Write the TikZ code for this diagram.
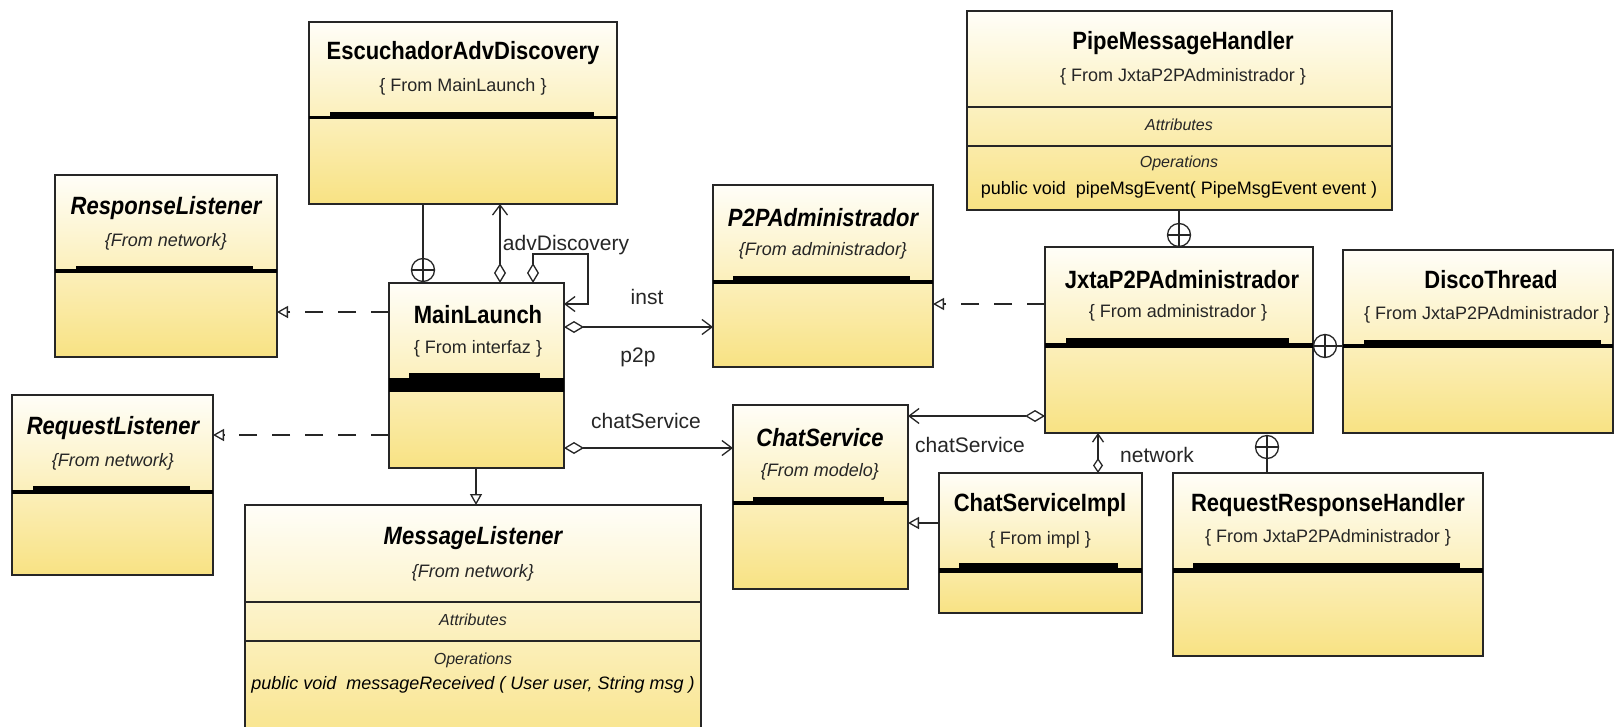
\documentclass[tikz,border=0pt]{standalone}
\usepackage{fontspec}
\setmainfont{Liberation Sans}
\newfontfamily\condfont[FakeStretch=0.88]{Liberation Sans}
\usetikzlibrary{arrows.meta}

\definecolor{boxtop}{HTML}{FFFEF8}
\definecolor{boxbot}{HTML}{F8E283}
\definecolor{edge}{HTML}{262626}

\tikzset{
  cls/.style={draw=edge, line width=1.4pt, top color=boxtop, bottom color=boxbot,
    rectangle, inner sep=0pt, outer sep=0pt, anchor=north west},
  ttl/.style={font=\condfont\bfseries\fontsize{25}{30}\selectfont, inner sep=0pt, text=black},
  ttli/.style={font=\condfont\bfseries\itshape\fontsize{25}{30}\selectfont, inner sep=0pt, text=black},
  frm/.style={font=\fontsize{18}{22}\selectfont, inner sep=0pt, text=black!85},
  frmi/.style={font=\itshape\fontsize{18}{22}\selectfont, inner sep=0pt, text=black!85},
  cmp/.style={font=\itshape\fontsize{16}{20}\selectfont, inner sep=0pt, text=black!85},
  meth/.style={font=\fontsize{18}{22}\selectfont, inner sep=0pt, text=black},
  methi/.style={font=\itshape\fontsize{18}{22}\selectfont, inner sep=0pt, text=black},
  lbl/.style={font=\fontsize{21}{25}\selectfont, inner sep=0pt, text=black!85},
  link/.style={draw=edge, line width=1.3pt},
  assoc/.style={link, arrows={Diamond[open,length=20pt,width=12pt]-Straight Barb[length=10pt,width=15pt]}},
  assocs/.style={link, arrows={Diamond[open,length=15pt,width=10pt]-Straight Barb[length=8pt,width=11pt]}},
  gen/.style={link, arrows={-Triangle[open,length=11pt,width=12pt]}},
  real/.style={link, dash pattern=on 18pt off 15pt, arrows={-Triangle[open,length=11pt,width=12pt]}},
  nest/.style={circle, draw=edge, line width=1.3pt, fill=white, minimum size=23pt, inner sep=0pt,
    path picture={\draw[edge, line width=1.1pt]
      (path picture bounding box.north) -- (path picture bounding box.south)
      (path picture bounding box.west) -- (path picture bounding box.east);}},
}

% class rectangle from its top-left and bottom-right corners
\newcommand\umlclass[5]{%
  \node[cls, minimum width={(#4-#2)*1pt}, minimum height={(#5-#3)*1pt}] (#1) at (#2,#3) {};}
% collapsed compartment bar: x1, x2, inset left, inset right, raised top, line top, line bottom
\newcommand\collbar[7]{%
  \fill[black] (#1,#6) rectangle (#2,#7);
  \fill[black] (#3,#5) rectangle (#4,#7);}

\begin{document}
\begin{tikzpicture}[x=1pt, y=-1pt]
\useasboundingbox (0,0) rectangle (1614,726);
\fill[white] (0,0) rectangle (1614,726);
\clip (0,0) rectangle (1614,726);

% ---------- classes ----------
\umlclass{esc}{309}{22}{617}{204}
\collbar{309}{617}{330}{594}{112}{116}{119}
\node[ttl] (esc-t) at (463,53) {EscuchadorAdvDiscovery};
\node[frm] (esc-f) at (463,87) {\{ From MainLaunch \}};

\umlclass{respL}{55}{175}{277}{357}
\collbar{55}{277}{76}{253}{266}{269}{273}
\node[ttli] (respL-t) at (166,208) {ResponseListener};
\node[frmi] (respL-f) at (166,242) {\{From network\}};

\umlclass{reqL}{12}{395}{213}{575}
\collbar{12}{213}{33}{190}{486}{490}{494}
\node[ttli] (reqL-t) at (113,428) {RequestListener};
\node[frmi] (reqL-f) at (113,462) {\{From network\}};

\umlclass{main}{389}{283}{564}{468}
\collbar{389}{564}{409}{540}{373}{378}{392}
\node[ttl] (main-t) at (478,315) {MainLaunch};
\node[frm] (main-f) at (478,349) {\{ From interfaz \}};

\umlclass{msgL}{245}{505}{701}{760}
\draw[link, line width=1.4pt] (245,602) -- (701,602);
\draw[link, line width=1.4pt] (245,641) -- (701,641);
\node[ttli] (msgL-t) at (473,538) {MessageListener};
\node[frmi] (msgL-f) at (473,573) {\{From network\}};
\node[cmp] (msgL-a) at (473,620) {Attributes};
\node[cmp] (msgL-o) at (473,660) {Operations};
\node[methi] (msgL-m) at (473,685) {public void\ \ messageReceived ( User user, String msg )};

\umlclass{p2p}{713}{185}{933}{367}
\collbar{713}{933}{733}{910}{276}{280}{284}
\node[ttli] (p2p-t) at (823,218) {P2PAdministrador};
\node[frmi] (p2p-f) at (823,251) {\{From administrador\}};

\umlclass{chatS}{733}{405}{908}{589}
\collbar{733}{908}{753}{884}{497}{501}{505}
\node[ttli] (chatS-t) at (820,438) {ChatService};
\node[frmi] (chatS-f) at (820,472) {\{From modelo\}};

\umlclass{pipe}{967}{11}{1392}{210}
\draw[link, line width=1.4pt] (967,107) -- (1392,107);
\draw[link, line width=1.4pt] (967,146) -- (1392,146);
\node[ttl] (pipe-t) at (1183,43) {PipeMessageHandler};
\node[frm] (pipe-f) at (1183,77) {\{ From JxtaP2PAdministrador \}};
\node[cmp] (pipe-a) at (1179,125) {Attributes};
\node[cmp] (pipe-o) at (1179,163) {Operations};
\node[meth] (pipe-m) at (1179,190) {public void\ \ pipeMsgEvent( PipeMsgEvent event )};

\umlclass{jxta}{1045}{247}{1313}{433}
\collbar{1045}{1313}{1066}{1289}{338}{343}{348}
\node[ttl] (jxta-t) at (1182,280) {JxtaP2PAdministrador};
\node[frm] (jxta-f) at (1178,313) {\{ From administrador \}};

\umlclass{disco}{1343}{250}{1613}{433}
\collbar{1343}{1613}{1364}{1601}{340}{344}{348}
\node[ttl] (disco-t) at (1491,280) {DiscoThread};
\node[frm] (disco-f) at (1487,315) {\{ From JxtaP2PAdministrador \}};

\umlclass{csImpl}{939}{473}{1142}{613}
\collbar{939}{1142}{959}{1118}{563}{568}{573}
\node[ttl] (csImpl-t) at (1040,505) {ChatServiceImpl};
\node[frm] (csImpl-f) at (1040,540) {\{ From impl \}};

\umlclass{rrh}{1173}{473}{1483}{656}
\collbar{1173}{1483}{1193}{1460}{563}{568}{573}
\node[ttl] (rrh-t) at (1328,505) {RequestResponseHandler};
\node[frm] (rrh-f) at (1328,538) {\{ From JxtaP2PAdministrador \}};

% ---------- nesting ----------
\node[nest] (nst1) at (423,270) {};
\draw[link] (nst1 |- esc.south) -- (nst1.north);
\node[nest] (nst2) at (1179,235) {};
\draw[link] (nst2 |- pipe.south) -- (nst2.north);
\node[nest] (nst3) at (1325,346) {};
\draw[link] (nst3.east) -- (nst3 -| disco.west);
\node[nest] (nst4) at (1267,447) {};
\draw[link] (nst4.south) -- (nst4 |- rrh.north);

% ---------- associations ----------
\draw[assoc] (main.north -| 500,0) -- (esc.south -| 500,0);
\draw[assoc] (main.north -| 533,0) -- (533,254) -- (588,254) -- (588,304) -- (main.east |- 0,304);
\node[lbl] (l-adv) at (566,245) {advDiscovery};

\draw[assoc] (main.east |- 0,327) -- (p2p.west |- 0,327);
\node[lbl] (l-inst) at (647,297) {inst};
\node[lbl] (l-p2p) at (638,357) {p2p};

\draw[assoc] (main.east |- 0,448) -- (chatS.west |- 0,448);
\node[lbl] (l-cs1) at (646,421) {chatService};

\draw[assoc] (jxta.west |- 0,416) -- (chatS.east |- 0,416);
\node[lbl] (l-cs2) at (970,445) {chatService};

\draw[assocs] (csImpl.north -| 1098,0) -- (jxta.south -| 1098,0);
\node[lbl] (l-net) at (1157,455) {network};

% ---------- generalization / realization ----------
\draw[gen] (main.south -| 476,0) -- (msgL.north -| 476,0);
\draw[gen] (csImpl.west |- 0,523) -- (chatS.east |- 0,523);
\draw[real] (main.west |- 0,312) -- (respL.east |- 0,312);
\draw[real] (main.west |- 0,435) -- (reqL.east |- 0,435);
\draw[real] (jxta.west |- 0,304) -- (p2p.east |- 0,304);
\end{tikzpicture}
\end{document}
